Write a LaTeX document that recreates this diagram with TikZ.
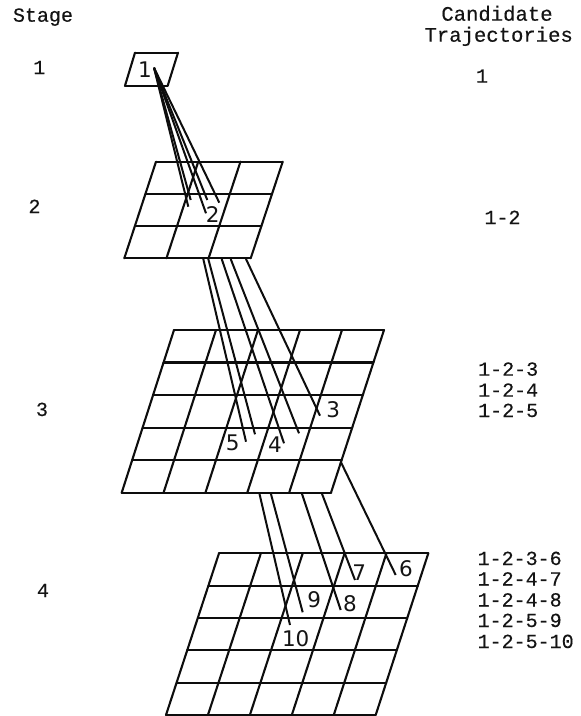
\documentclass[tikz,border=0pt]{standalone}
\usepackage{fontspec}
\setmainfont{DejaVu Sans}
\setmonofont{Liberation Mono}[FakeBold=0.35]
\usetikzlibrary{calc}
\tikzset{
  gridline/.style={line width=2.1pt,line join=miter,line cap=round,black!95},
  trajline/.style={line width=2pt,line cap=butt,black!95},
  monotext/.style={font=\fontsize{20}{20}\selectfont\ttfamily,inner sep=0pt,anchor=base,text=black!92},
  monoleft/.style={monotext,anchor=base west},
  cellnum/.style={font=\fontsize{21.5}{21.5}\selectfont,inner sep=0pt,anchor=center,text=black!92},
}
\newcommand{\trellis}[6]{%
  % #1 TL #2 TR #3 BL #4 BR #5 rows #6 cols
  \foreach \r in {0,...,#5}{
    \draw[gridline] ($(#1)!\r/#5!(#3)$) -- ($(#2)!\r/#5!(#4)$);
  }
  \foreach \c in {0,...,#6}{
    \draw[gridline] ($(#1)!\c/#6!(#2)$) -- ($(#3)!\c/#6!(#4)$);
  }
}
\begin{document}
\begin{tikzpicture}[x=1pt,y=-1pt]
\useasboundingbox (0,0) rectangle (581,716);
% corners
\coordinate (aTL) at (135,52.7);  \coordinate (aTR) at (178,52.7);
\coordinate (aBL) at (125,85.7);  \coordinate (aBR) at (167.7,85.7);
\coordinate (bTL) at (156,161.7); \coordinate (bTR) at (282.7,161.7);
\coordinate (bBL) at (124.3,258.3); \coordinate (bBR) at (250.7,258.3);
\coordinate (cTL) at (174,330);   \coordinate (cTR) at (384,330);
\coordinate (cBL) at (121.7,492.7); \coordinate (cBR) at (331,492.7);
\coordinate (dTL) at (219,553.3); \coordinate (dTR) at (428.3,553.3);
\coordinate (dBL) at (166,715);   \coordinate (dBR) at (375.7,715);
% grids
\trellis{aTL}{aTR}{aBL}{aBR}{1}{1}
\trellis{bTL}{bTR}{bBL}{bBR}{3}{3}
\trellis{cTL}{cTR}{cBL}{cBR}{5}{5}
\trellis{dTL}{dTR}{dBL}{dBR}{5}{5}
% cell numbers
\node[cellnum] (n1) at (145,69.3) {1};
\node[cellnum] (n2) at (212.7,214.3) {2};
\node[cellnum] (n3) at (333.3,409.3) {3};
\node[cellnum] (n4) at (275,445) {4};
\node[cellnum] (n5) at (232.7,443.3) {5};
\node[cellnum] (n6) at (406,568.3) {6};
\node[cellnum] (n7) at (359.3,572.3) {7};
\node[cellnum] (n8) at (350,604) {8};
\node[cellnum] (n9) at (314.3,600) {9};
\node[cellnum] (n10) at (295.7,638.3) {10};
% connector ends
\coordinate (s1) at (154,67.7);
\coordinate (e1a) at (188.3,206.7);
\coordinate (e1b) at (190.7,200);
\coordinate (e1c) at (206,213.3);
\coordinate (e1d) at (207.3,200);
\coordinate (e1e) at (219.3,202.7);
\foreach \e in {e1a,e1b,e1c,e1d,e1e}{ \draw[trajline] (s1) -- (\e); }
\coordinate (s2a) at (203.3,259); \coordinate (e2a) at (246,441.7);
\coordinate (s2b) at (208.3,259); \coordinate (e2b) at (255,434.3);
\coordinate (s2c) at (221.7,259); \coordinate (e2c) at (284,443.3);
\coordinate (s2d) at (230.7,259); \coordinate (e2d) at (299,433.3);
\coordinate (s2e) at (246,259);   \coordinate (e2e) at (320,415.7);
\foreach \k in {a,b,c,d,e}{ \draw[trajline] (s2\k) -- (e2\k); }
\coordinate (s3a) at (259.3,493); \coordinate (e3a) at (290,625);
\coordinate (s3b) at (270.7,493); \coordinate (e3b) at (302.7,612.3);
\coordinate (s3c) at (301.7,493); \coordinate (e3c) at (340.7,610);
\coordinate (s3d) at (321.7,493); \coordinate (e3d) at (355,580);
\coordinate (s3e) at (340.7,461.7); \coordinate (e3e) at (395.7,575);
\foreach \k in {a,b,c,d,e}{ \draw[trajline] (s3\k) -- (e3\k); }
% left column
\node[monotext] (stagehead) at (43,21.7) {Stage};
\node[monotext] (st1) at (39.3,74) {1};
\node[monotext] (st2) at (34.5,213) {2};
\node[monotext] (st3) at (42,416) {3};
\node[monotext] (st4) at (43,597) {4};
% right column
\node[monotext,font=\fontsize{20.6}{20.6}\selectfont\ttfamily] (cand) at (497,20.7) {Candidate};
\node[monotext,font=\fontsize{20.6}{20.6}\selectfont\ttfamily] (traj) at (498.7,41.7) {Trajectories};
\node[monotext] (t1) at (482,82.7) {1};
\node[monotext] (t12) at (502.5,224) {1-2};
\node[monoleft] (t123) at (478,375.7) {1-2-3};
\node[monoleft] (t124) at (478,396.7) {1-2-4};
\node[monoleft] (t125) at (478,417) {1-2-5};
\node[monoleft] (t1236) at (477.5,565) {1-2-3-6};
\node[monoleft] (t1247) at (477.5,585.5) {1-2-4-7};
\node[monoleft] (t1248) at (477.5,606.5) {1-2-4-8};
\node[monoleft] (t1259) at (477.5,627) {1-2-5-9};
\node[monoleft] (t12510) at (477.5,648) {1-2-5-10};
\end{tikzpicture}
\end{document}
